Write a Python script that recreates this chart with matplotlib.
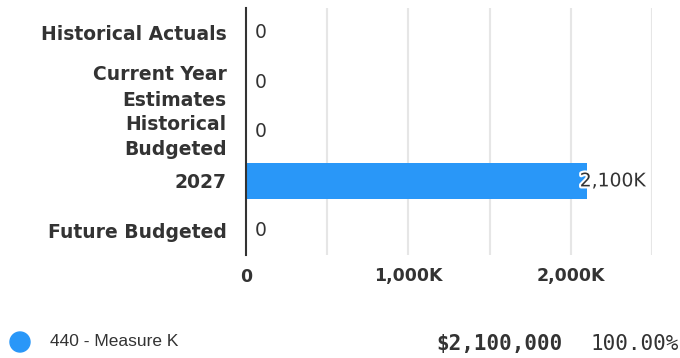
import matplotlib.pyplot as plt
import matplotlib.patheffects as pe
from matplotlib.patches import Ellipse

categories = ["Historical Actuals", "Current Year\nEstimates", "Historical\nBudgeted",
              "2027", "Future Budgeted"]
values = [0, 0, 0, 2100000, 0]
value_labels = ["0", "0", "0", "2,100K", "0"]
xticks = [0, 1000000, 2000000]
xtick_labels = ["0", "1,000K", "2,000K"]
grid_ticks = [0, 500000, 1000000, 1500000, 2000000, 2500000]

legend_name = "440 - Measure K"
legend_amount = "$2,100,000"
legend_pct = "100.00%"

BLUE = "#2997f8"
TEXT = "#333333"
FONT = ["DejaVu Sans"]

fig = plt.figure(figsize=(6.8, 3.58), dpi=100)
ax = fig.add_axes([246 / 680, 1 - 255 / 358, (652 - 246) / 680, (255 - 8) / 358])

y = list(range(len(categories)))
ax.barh(y, values, height=0.72, color=BLUE, zorder=3)
ax.set_ylim(len(categories) - 0.5, -0.5)
ax.set_xlim(0, 2500000)

for g in grid_ticks[1:]:
    ax.axvline(g, color="#e6e6e6", lw=1.5, zorder=1)

# value labels
for i, (v, lab) in enumerate(zip(values, value_labels)):
    if v > 0:
        t = ax.text(v - 45000, i, lab, va="center", ha="left", fontsize=13.5,
                    color=TEXT, family=FONT, zorder=5)
        t.set_path_effects([pe.withStroke(linewidth=3, foreground="white")])
    else:
        ax.text(v + 55000, i, lab, va="center", ha="left", fontsize=13.5,
                color=TEXT, family=FONT, zorder=5)

ax.set_yticks(y)
ax.set_yticklabels(categories, fontsize=13.5, fontweight="bold", color=TEXT,
                   family=FONT, linespacing=1.45)
ax.set_xticks(xticks)
ax.set_xticklabels(xtick_labels, fontsize=12.5, fontweight="bold", color=TEXT, family=FONT)
ax.tick_params(axis="both", length=0)
ax.tick_params(axis="y", pad=14)
ax.tick_params(axis="x", pad=9)

for s in ["top", "right", "bottom"]:
    ax.spines[s].set_visible(False)
ax.spines["left"].set_color("#333333")
ax.spines["left"].set_linewidth(1.5)
ax.spines["left"].set_zorder(6)

# legend row
fig.add_artist(Ellipse((20 / 680, 1 - 342 / 358), 20 / 680, 20 / 358,
                       transform=fig.transFigure, color=BLUE))
fig.text(50 / 680, 1 - 342 / 358, legend_name, fontsize=12.5, color=TEXT,
         family=["Liberation Sans"], va="center")
fig.text(563 / 680, 1 - 344 / 358, legend_amount, fontsize=15, color=TEXT,
         family=["DejaVu Sans Mono"], fontweight="bold", va="center", ha="right")
fig.text(679 / 680, 1 - 344 / 358, legend_pct, fontsize=15, color=TEXT,
         family=["DejaVu Sans Mono"], va="center", ha="right")

fig.savefig("out.png", dpi=100)
